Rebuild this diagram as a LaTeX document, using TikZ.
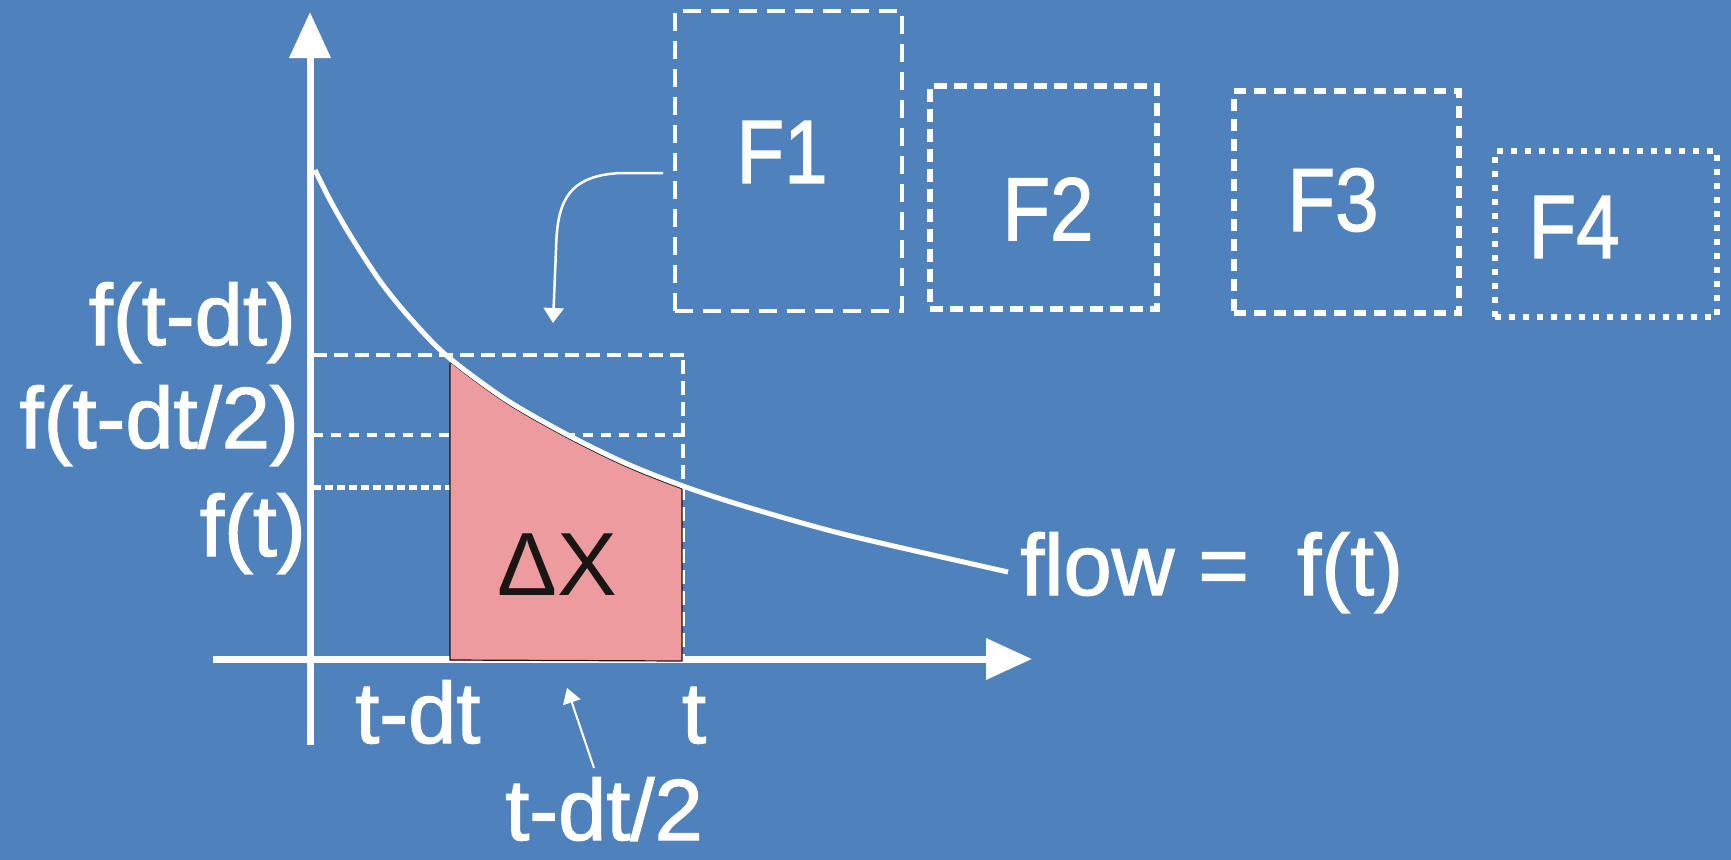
\documentclass[tikz,border=0pt]{standalone}
\usepackage{fontspec}
\setmainfont{Liberation Sans}
\newfontfamily\heavysans[FakeBold=1.5]{Liberation Sans}
\usetikzlibrary{arrows.meta}
\definecolor{bgblue}{RGB}{79,129,189}
\definecolor{areapink}{RGB}{236,155,159}
\definecolor{inkdark}{RGB}{26,22,20}

\begin{document}
\begin{tikzpicture}[x=1bp,y=-1bp,
  axis/.style={white,line width=7bp,-{Triangle[length=46bp,width=40bp]}},
  guide/.style={white,line width=3.5bp,dash pattern=on 14bp off 7bp},
  lbl/.style={text=white,font=\heavysans\fontsize{87}{87}\selectfont,inner sep=0pt},
  flbl/.style={text=white,font=\heavysans\fontsize{90}{90}\selectfont,inner sep=0pt},
  fbox/.style={draw=white,inner sep=0pt},
  pointer/.style={white,line width=2.5bp,-{Triangle[length=15bp,width=20bp]}},
  flowline/.style={white,line width=5bp,line join=round}
]
% canvas
\fill[bgblue] (0,0) rectangle (1731,860);
\useasboundingbox (0,0) rectangle (1731,860);

% guide lines to the function values
\draw[guide] (313,355) -- (688,355);
\draw[guide] (683,360) -- (683,659);
\draw[white,line width=4bp,dash pattern=on 10bp off 8bp] (313,435) -- (683,435);
\draw[white,line width=5bp,dash pattern=on 8bp off 4bp] (313,487) -- (450,487);

% axes
\coordinate (ybot) at (310,745);
\coordinate (ytop) at (310,12);
\coordinate (xleft) at (213,659);
\coordinate (xright) at (1032,659);
\draw[axis] (ybot) -- (ytop);
\draw[axis] (xleft) -- (xright);

% shaded area under the flow between t-dt and t
\begin{scope}
  \clip (450,300) rectangle (682,660);
  \fill[areapink,yshift=-3bp] plot[smooth] coordinates {(315,170) (330,200) (350,235) (380,281) (410,318) (447,356) (505,399) (566,434) (625,463) (683,486) (747,507) (847,535) (1008,572)} -- (1008,665) -- (315,665) -- cycle;
  \draw[inkdark,line width=1.2bp,yshift=-3bp] plot[smooth] coordinates {(315,170) (330,200) (350,235) (380,281) (410,318) (447,356) (505,399) (566,434) (625,463) (683,486) (747,507) (847,535) (1008,572)};
\end{scope}
\draw[inkdark,line width=1.2bp] (450,363) -- (450,660) -- (682,661) -- (682,489);

% flow curve
\draw[flowline] plot[smooth] coordinates {(315,170) (330,200) (350,235) (380,281) (410,318) (447,356) (505,399) (566,434) (625,463) (683,486) (747,507) (847,535) (1008,572)};

% area label
\node[text=inkdark,font=\fontsize{90}{90}\selectfont,inner sep=0pt,anchor=base] (dx) at (557,595) {ΔX};

% axis labels
\node[lbl,anchor=base east] (ftdt) at (296,345) {f(t-dt)};
\node[lbl,anchor=base east] (ftdth) at (299,448) {f(t-dt/2)};
\node[lbl,anchor=base east] (ft) at (306,556) {f(t)};
\node[lbl,anchor=base west] (tdt) at (355,743) {t-dt};
\node[lbl,anchor=base] (tt) at (694,743) {t};
\node[lbl,anchor=base west] (tdth) at (505,840) {t-dt/2};
\node[lbl,anchor=base west] (flow) at (1020,595) {flow = \ f(t)};

% flow boxes
\node[fbox,line width=4bp,dash pattern=on 18bp off 10bp,minimum width=227bp,minimum height=300bp] (F1) at (788.5,161) {};
\node[fbox,line width=6bp,dash pattern=on 13bp off 7bp,minimum width=227bp,minimum height=223bp] (F2) at (1043.5,197.5) {};
\node[fbox,line width=6bp,dash pattern=on 12bp off 8bp,minimum width=225bp,minimum height=222bp] (F3) at (1346.5,202) {};
\node[fbox,line width=6bp,dash pattern=on 6bp off 8bp,minimum width=222bp,minimum height=166bp] (F4) at (1606,234) {};
\node[flbl] (F1t) at (782,152) {\scalebox{0.87}[1]{F1}};
\node[flbl] (F2t) at (1048,209) {\scalebox{0.87}[1]{F2}};
\node[flbl] (F3t) at (1333,200) {\scalebox{0.87}[1]{F3}};
\node[flbl] (F4t) at (1574,227) {\scalebox{0.87}[1]{F4}};

% pointers
\coordinate (p1s) at (663,173);
\coordinate (p1e) at (553,323);
\draw[pointer] (p1s) -- (622,173) .. controls (565,175) and (557,205) .. (556,250) -- (p1e);
\coordinate (p2s) at (594,768);
\coordinate (p2e) at (567,688);
\draw[pointer,line width=2bp,-{Triangle[length=15bp,width=18bp]}] (p2s) -- (p2e);
\end{tikzpicture}
\end{document}
